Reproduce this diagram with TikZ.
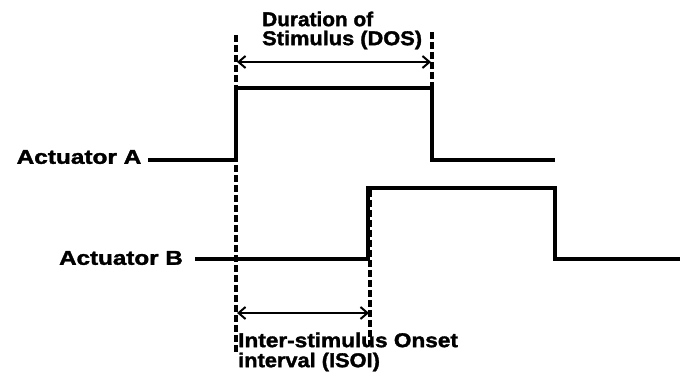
\documentclass[tikz,border=0pt]{standalone}
\usepackage{fontspec}
\setmainfont{Liberation Sans}
\newfontfamily\heavyfont[FakeBold=1.6]{Liberation Sans Bold}
\usetikzlibrary{arrows.meta}
\begin{document}
\begin{tikzpicture}[x=1pt,y=-1pt,
  lbl/.style={inner sep=0pt,font=\fontsize{20}{22}\heavyfont},
  signal/.style={line width=3.4pt,line join=miter},
  guide/.style={line width=3.4pt,dash pattern=on 7pt off 3pt},
  span/.style={line width=1.8pt,{Straight Barb[length=7pt,width=12pt,line width=2pt]}-{Straight Barb[length=7pt,width=12pt,line width=2pt]}}]
\useasboundingbox (0,0) rectangle (680,379);
% coordinates
\coordinate (a0) at (148,160);
\coordinate (a1) at (236,160);
\coordinate (a2) at (236,88);
\coordinate (a3) at (432,88);
\coordinate (a4) at (432,160);
\coordinate (a5) at (555,160);
\coordinate (b0) at (195,259);
\coordinate (b1) at (368,259);
\coordinate (b2) at (368,188);
\coordinate (b3) at (555,188);
\coordinate (b4) at (555,259);
\coordinate (b5) at (680,259);
\coordinate (g1t) at (236,35);
\coordinate (g1b) at (236,352);
\coordinate (g2t) at (432,32);
\coordinate (g2b) at (432,88);
\coordinate (g3t) at (370,190);
\coordinate (g3b) at (370,345);
\coordinate (d1) at (237,62);
\coordinate (d2) at (431,62);
\coordinate (i1) at (237,313);
\coordinate (i2) at (369,313);
% signals
\draw[signal] (a0) -- (a1) -- (a2) -- (a3) -- (a4) -- (a5);
\draw[signal] (b0) -- (b1) -- (b2) -- (b3) -- (b4) -- (b5);
% guides
\draw[guide] (g1t) -- (g1b);
\draw[guide] (g2t) -- (g2b);
\draw[guide] (g3t) -- (g3b);
% spans
\draw[span] (d1) -- (d2);
\draw[span] (i1) -- (i2);
% labels
\node[lbl] (la) at (79,157) {\scalebox{1.22}[1]{Actuator A}};
\node[lbl] (lb) at (121,258) {\scalebox{1.21}[1]{Actuator B}};
\node[lbl,anchor=west] (dos1) at (262,19) {\scalebox{1.04}[1]{Duration of}};
\node[lbl,anchor=west] (dos2) at (262,40) {\scalebox{1.09}[1]{Stimulus (DOS)}};
\node[lbl,anchor=west] (is1) at (238,340) {\scalebox{1.13}[1]{Inter-stimulus Onset}};
\node[lbl,anchor=west] (is2) at (238,362) {\scalebox{1.09}[1]{interval (ISOI)}};
\end{tikzpicture}
\end{document}
